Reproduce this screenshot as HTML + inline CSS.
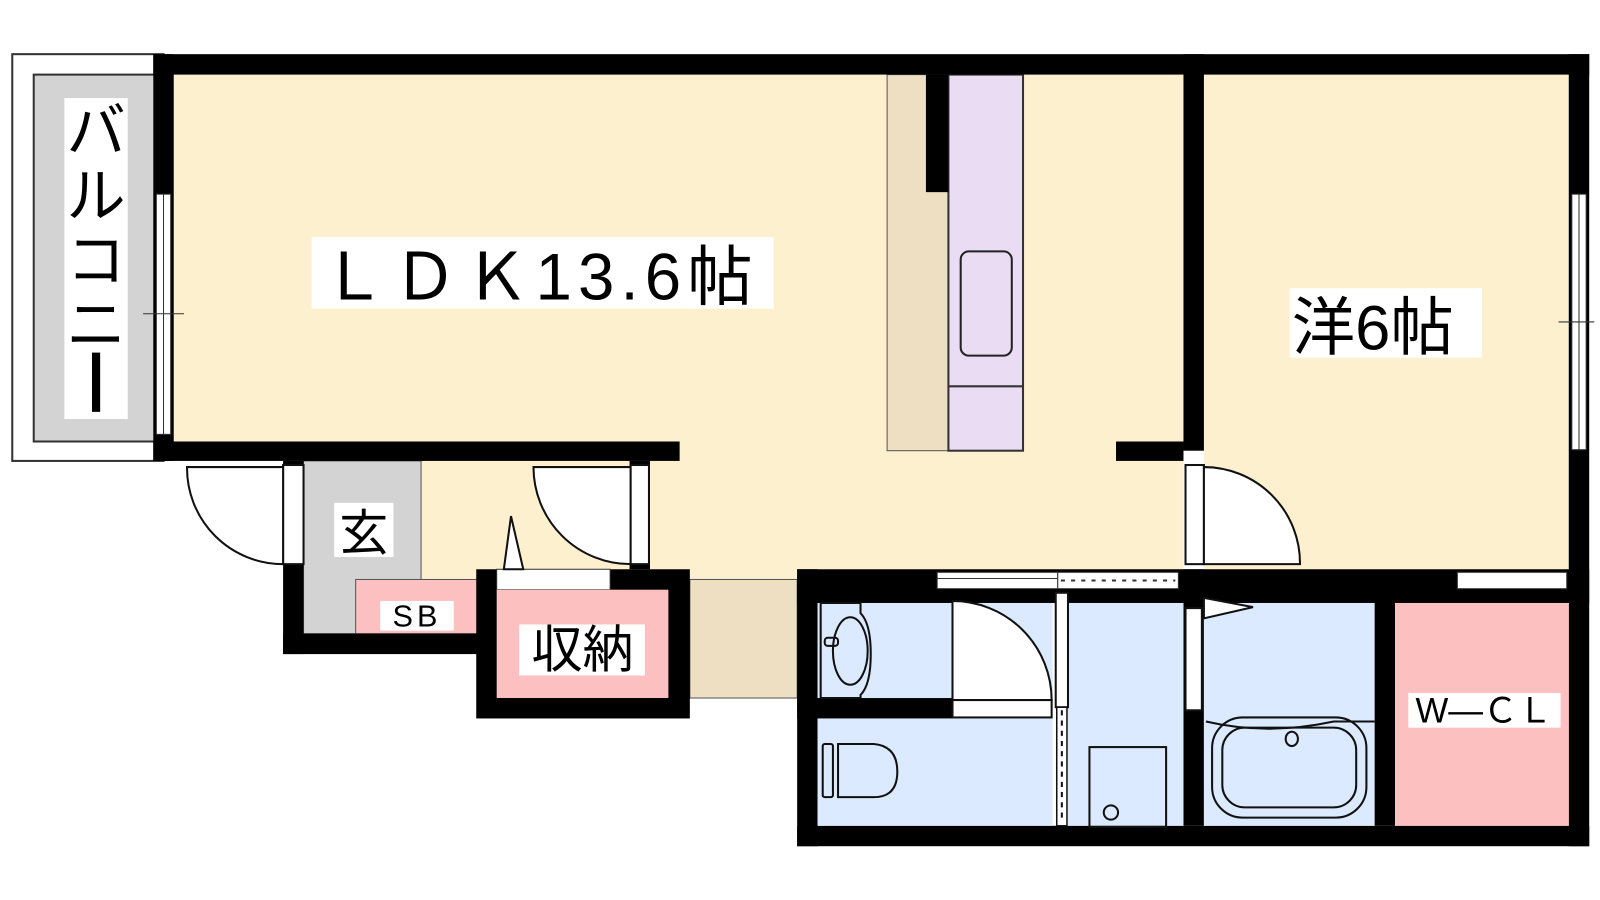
<!DOCTYPE html>
<html><head><meta charset="utf-8"><style>
html,body{margin:0;padding:0;background:#fff;width:1600px;height:900px;overflow:hidden}
svg text{font-family:"Liberation Sans","Noto Sans CJK JP",sans-serif}
</style></head><body>
<svg width="1600" height="900" viewBox="0 0 1600 900" xmlns="http://www.w3.org/2000/svg">
<g transform="scale(1.022)">
<!-- balcony -->
<rect x="12" y="53" width="148" height="398" fill="#fff" stroke="#333" stroke-width="2"/>
<rect x="33" y="73" width="120" height="359" fill="#d3d3d3" stroke="#333" stroke-width="2"/>
<rect x="63" y="96" width="62" height="314" fill="#fff"/>
<text x="94" y="148" font-size="58" text-anchor="middle">バ</text>
<text x="94" y="212" font-size="58" text-anchor="middle">ル</text>
<text x="94" y="275" font-size="58" text-anchor="middle">コ</text>
<text x="94" y="338" font-size="58" text-anchor="middle">ニ</text>
<rect x="90" y="345" width="8" height="58" fill="#000"/>
<!-- floors -->
<rect x="170" y="73" width="990" height="360" fill="#fdf0cf"/>
<rect x="412" y="433" width="746" height="134" fill="#fdf0cf"/>
<rect x="1178" y="73" width="357" height="486" fill="#fdf0cf"/>
<rect x="868" y="73" width="60" height="368" fill="#efdfc2" stroke="#555" stroke-width="1"/>
<rect x="928" y="73" width="73" height="368" fill="#eadcf3" stroke="#333" stroke-width="2"/>
<line x1="928" y1="378" x2="1001" y2="378" stroke="#333" stroke-width="2"/>
<rect x="940" y="246" width="50" height="102" rx="8" fill="none" stroke="#222" stroke-width="2"/>
<rect x="297" y="451" width="115" height="169" fill="#d3d3d3" stroke="#555" stroke-width="1"/>
<rect x="348" y="567" width="119" height="53" fill="#fdc0c0" stroke="#555" stroke-width="1"/>
<rect x="675" y="567" width="105" height="116" fill="#efdfc2" stroke="#555" stroke-width="1"/>
<!-- walls -->
<g fill="#000">
<rect x="150" y="53" width="1405" height="20"/>
<rect x="150" y="53" width="20" height="398"/>
<rect x="150" y="432" width="515" height="19"/>
<rect x="906" y="73" width="22" height="115"/>
<rect x="1158" y="53" width="20" height="388"/>
<rect x="1092" y="432" width="66" height="19"/>
<rect x="1535" y="53" width="20" height="775"/>
<rect x="277" y="451" width="20" height="189"/>
<rect x="277" y="620" width="190" height="20"/>
<rect x="466" y="557" width="209" height="146"/>
<rect x="616" y="451" width="20" height="106"/>
<rect x="780" y="557" width="775" height="33"/>
<rect x="780" y="557" width="20" height="271"/>
<rect x="780" y="808" width="775" height="20"/>
<rect x="780" y="683" width="152" height="20"/>
<rect x="1158" y="557" width="20" height="251"/>
<rect x="1345" y="577" width="20" height="231"/>
</g>
<!-- windows / openings -->
<rect x="153" y="190" width="14" height="235" fill="#fff" stroke="#333" stroke-width="1"/>
<line x1="160" y1="190" x2="160" y2="425" stroke="#333"/>
<line x1="140" y1="307" x2="180" y2="307" stroke="#333"/>
<rect x="1538" y="190" width="14" height="250" fill="#fff" stroke="#333" stroke-width="1"/>
<line x1="1545" y1="190" x2="1545" y2="440" stroke="#333"/>
<line x1="1525" y1="315" x2="1560" y2="315" stroke="#333"/>
<rect x="917" y="560" width="118" height="16" fill="#fff" stroke="#333"/>
<line x1="917" y1="566" x2="1035" y2="566" stroke="#333"/>
<rect x="1035" y="560" width="118" height="16" fill="#fff" stroke="#333"/>
<line x1="1038" y1="568" x2="1150" y2="568" stroke="#333" stroke-width="2" stroke-dasharray="4,6"/>
<rect x="1426" y="560" width="107" height="16" fill="#fff" stroke="#333"/>
<rect x="486" y="557" width="111" height="20" fill="#fff" stroke="#333"/>
<!-- room floors within walls -->
<rect x="486" y="577" width="168" height="106" fill="#fdc0c0"/>
<rect x="800" y="590" width="230" height="93" fill="#dbeafe"/>
<rect x="800" y="703" width="230" height="105" fill="#dbeafe"/>
<rect x="1045" y="590" width="113" height="218" fill="#dbeafe"/>
<rect x="1178" y="590" width="167" height="218" fill="#dbeafe"/>
<rect x="1365" y="590" width="170" height="218" fill="#fdc0c0"/>
<!-- doors -->
<g fill="#fff" stroke="#111" stroke-width="2">
<rect x="277" y="455" width="20" height="97"/>
<path d="M277 457 L183 457 A94 94 0 0 0 277 552 Z"/>
<rect x="617" y="455" width="18" height="97"/>
<path d="M617 457 L522 457 A95 95 0 0 0 617 552 Z"/>
<rect x="1160" y="455" width="18" height="97"/>
<path d="M1178 457 A94 94 0 0 1 1272 552 L1178 552 Z"/>
<path d="M932 588 A97 97 0 0 1 1029 685 L932 685 Z"/>
<rect x="932" y="685" width="97" height="17"/>
<rect x="1033" y="580" width="12" height="112"/>
<rect x="1160" y="595" width="16" height="100"/>
<path d="M1178 585 L1226 594 L1178 605 Z"/>
<path d="M493 557 L500 505 L512 557 Z"/>
</g>
<rect x="1034" y="692" width="10" height="116" fill="#fff" stroke="#111" stroke-width="1.5"/>
<line x1="1039" y1="695" x2="1039" y2="805" stroke="#111" stroke-width="2" stroke-dasharray="5,5"/>
<!-- fixtures -->
<g fill="none" stroke="#111" stroke-width="2">
<path d="M803 590 L842 590 L842 600 Q852 610 852 640 Q852 670 842 680 L842 683 L803 683 Z" fill="#dbeafe"/>
<ellipse cx="832" cy="637" rx="17" ry="33"/>
<rect x="807" y="624" width="13" height="8" rx="3"/>
<rect x="805" y="728" width="10" height="52" rx="2"/>
<path d="M820 728 L855 728 Q878 730 878 755 Q878 780 855 780 L820 780 Z"/>
<rect x="1066" y="731" width="75" height="78"/>
<ellipse cx="1087" cy="795" rx="7" ry="7"/>
<path d="M1180 706 Q1240 720 1305 706 L1345 706"/>
<rect x="1186" y="702" width="151" height="98" rx="30"/>
<rect x="1196" y="712" width="131" height="78" rx="22"/>
<ellipse cx="1264" cy="723" rx="6" ry="7"/>
</g>
<!-- labels -->
<rect x="305" y="232" width="452" height="70" fill="#fff"/>
<text x="314" y="293" font-size="64" letter-spacing="6">ＬＤＫ13.6帖</text>
<rect x="1262" y="282" width="188" height="68" fill="#fff"/>
<text x="1264" y="342" font-size="62">洋6帖</text>
<rect x="327" y="492" width="58" height="53" fill="#fff"/>
<text x="356" y="538" font-size="48" text-anchor="middle">玄</text>
<rect x="372" y="588" width="72" height="29" fill="#fff"/>
<text x="408" y="613" font-size="30" text-anchor="middle" letter-spacing="4">SB</text>
<rect x="1378" y="678" width="149" height="34" fill="#fff"/>
<text x="1452" y="707" font-size="34" text-anchor="middle">W—ＣＬ</text>
<rect x="508" y="611" width="123" height="50" fill="#fff"/>
<text x="570" y="653" font-size="50" text-anchor="middle">収納</text>
</g>
</svg>
</body></html>
